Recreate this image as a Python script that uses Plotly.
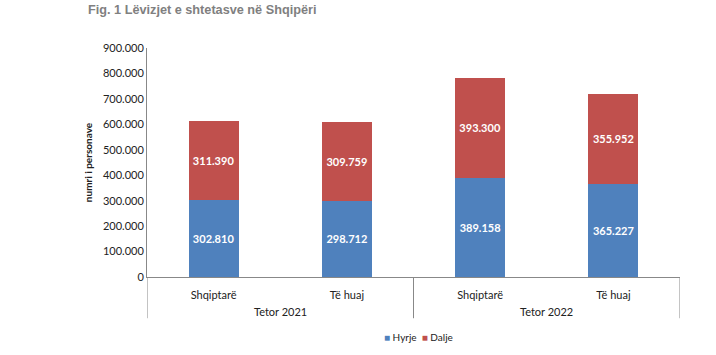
import plotly.graph_objects as go

periods = ["Tetor 2021", "Tetor 2022"]
groups = ["Shqiptarë", "Të huaj", "Shqiptarë", "Të huaj"]
hyrje = [302810, 298712, 389158, 365227]
dalje = [311390, 309759, 393300, 355952]
y_ticks = [0, 100000, 200000, 300000, 400000, 500000, 600000, 700000, 800000, 900000]

font_family = "Lato, Open Sans, sans-serif"
xpos = list(range(len(groups)))

fig = go.Figure()
for name, vals, color in [("Hyrje", hyrje, "#4F81BD"), ("Dalje", dalje, "#C0504D")]:
    fig.add_trace(go.Bar(
        x=xpos, y=vals, name=name,
        marker=dict(color=color, line=dict(width=0)),
        texttemplate="%{y:,.0f}", textposition="inside",
        insidetextanchor="middle",
        textfont=dict(color="white", size=11, family=font_family, weight="bold"),
    ))

# group labels and dividers for the two-level category axis
for i, p in enumerate(periods):
    fig.add_annotation(x=2 * i + 0.5, xref="x", y=-0.152, yref="paper",
                       text=p, showarrow=False, yanchor="middle",
                       font=dict(size=11, family=font_family, color="#222"))
for xd in [-0.5, 1.5, 3.5]:
    fig.add_shape(type="line", xref="x", yref="paper", x0=xd, x1=xd, y0=0, y1=-0.18,
                  line=dict(color="#888", width=1))

# legend drawn as text
fig.add_annotation(x=365 / 716, xref="paper", y=-0.26, yref="paper", showarrow=False,
                   text="<span style='color:#4F81BD'>■</span> Hyrje  <span style='color:#C0504D'>■</span> Dalje",
                   font=dict(size=10, family=font_family, color="#222"), yanchor="middle")

fig.update_layout(
    barmode="stack",
    bargap=0.625,
    width=716, height=355,
    separators=",.",
    paper_bgcolor="white", plot_bgcolor="white",
    margin=dict(l=147, r=36, t=48, b=78, autoexpand=False),
    font=dict(family=font_family, size=11, color="#222"),
    title=dict(text="<b>Fig. 1 Lëvizjet e shtetasve në Shqipëri</b>",
               x=88 / 716, xanchor="left", y=1 - 10 / 355, yanchor="middle",
               font=dict(family="Liberation Sans, Arial", size=12.7, color="#808080")),
    showlegend=False,
)
fig.update_yaxes(range=[0, 900000], tickvals=y_ticks, tickformat=",.0f",
                 showgrid=False, showline=True, linecolor="#888", linewidth=1,
                 ticks="", automargin=False,
                 title=dict(text="<b>numri i personave</b>", font=dict(size=10), standoff=8),
                 tickfont=dict(size=11))
fig.update_xaxes(range=[-0.5, 3.5], tickvals=xpos, ticktext=groups,
                 showline=True, linecolor="#888", linewidth=1, ticks="",
                 automargin=False, ticklabelstandoff=8,
                 tickfont=dict(size=11))

fig.write_html("out.html", config={"displayModeBar": False},
               post_script="document.body.style.margin='0';")
